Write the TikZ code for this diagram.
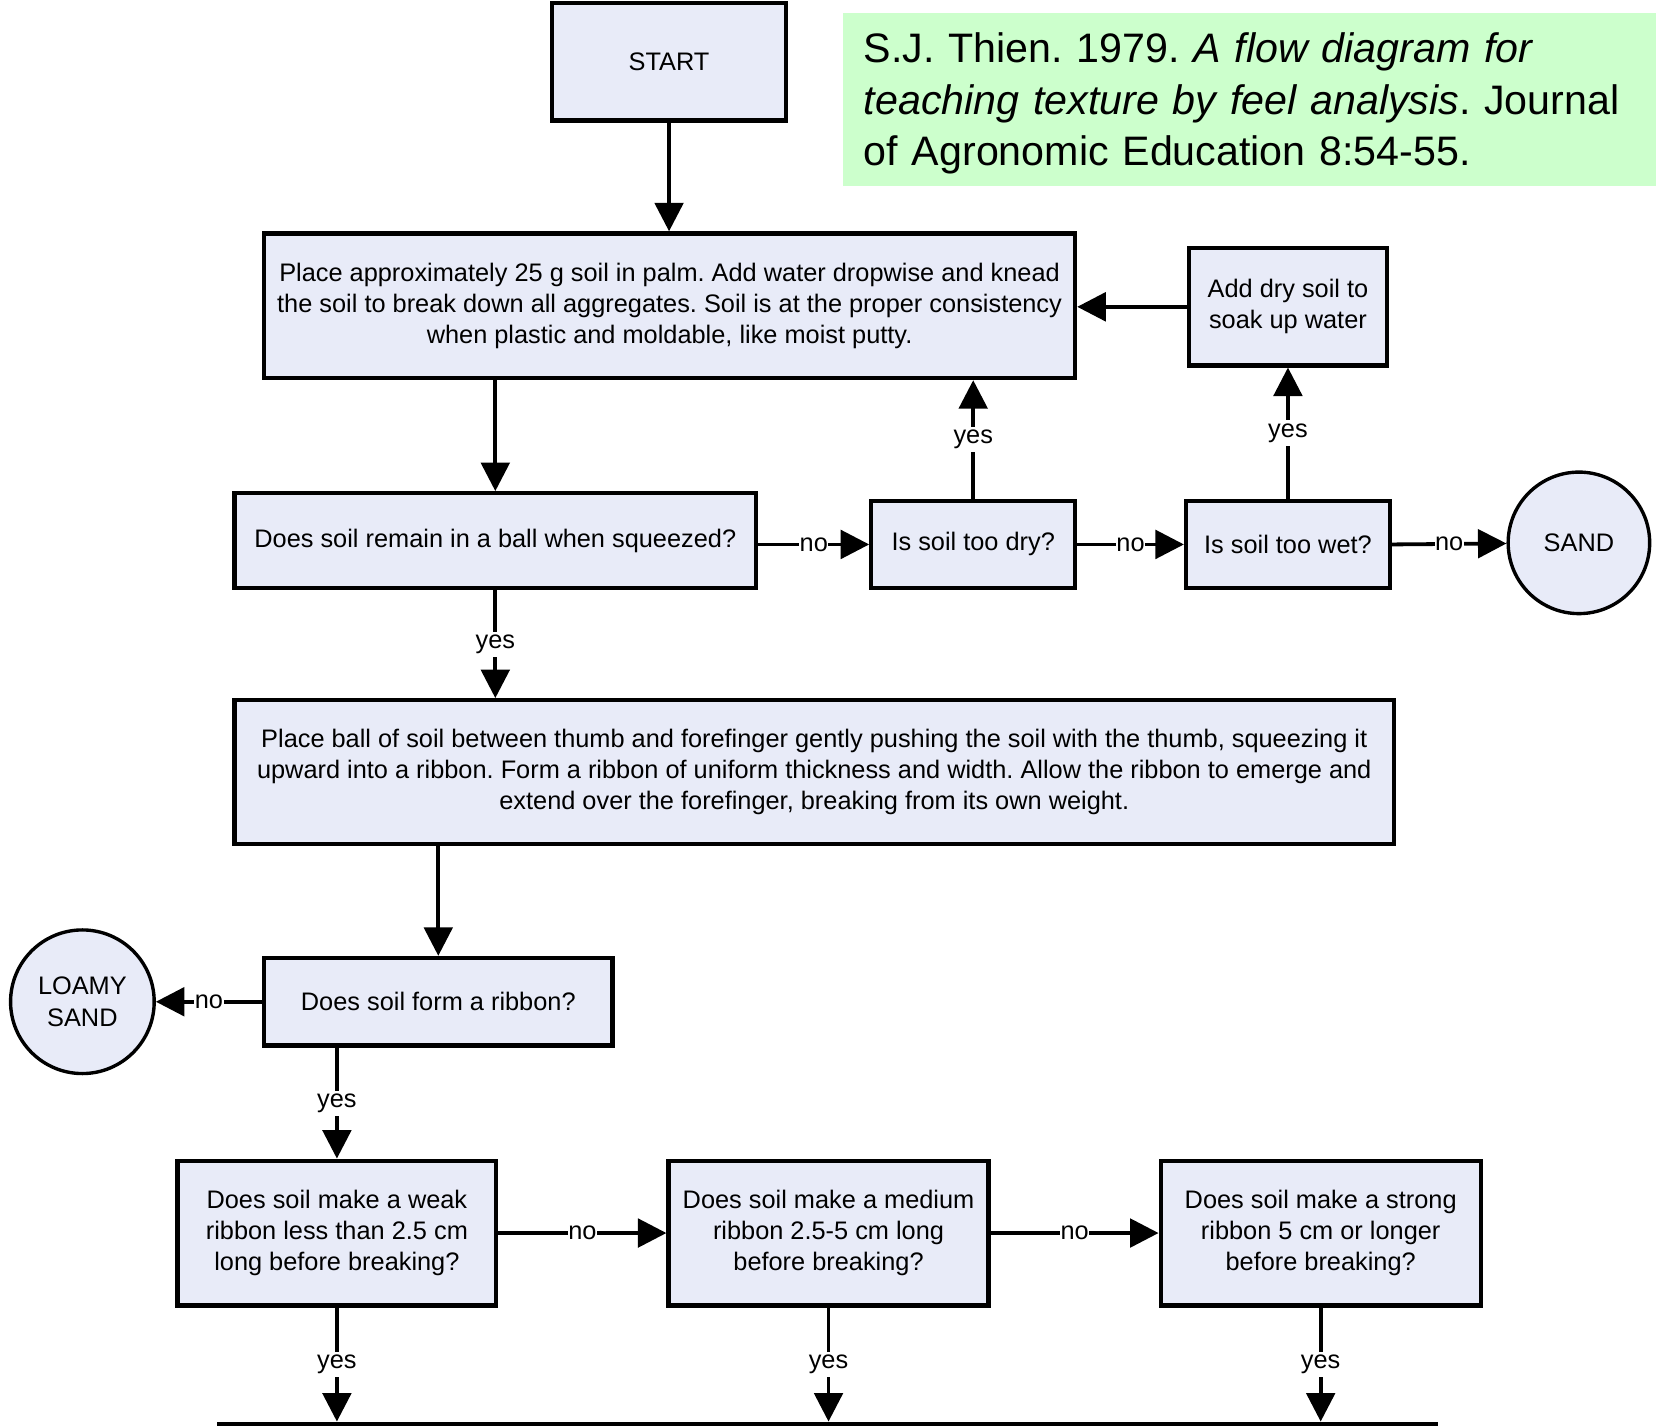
\documentclass[tikz,border=0pt]{standalone}
\usepackage{fontspec}
\setmainfont{Liberation Sans}
\usetikzlibrary{arrows.meta}
\definecolor{boxfill}{RGB}{232,235,248}
\definecolor{citefill}{RGB}{204,255,204}
\newcommand{\diagfont}{\fontsize{12}{14.75}\selectfont}
\newcommand{\citefont}{\fontsize{19.5}{24.25}\selectfont}
\frenchspacing
\begin{document}
\frenchspacing
\begin{tikzpicture}[x=0.5pt,y=-0.5pt,
  box/.style={draw, line width=2pt, fill=boxfill, align=center, inner sep=0pt, font=\diagfont},
  endcircle/.style={draw, circle, line width=1.6pt, fill=boxfill, align=center, inner sep=0pt, font=\diagfont},
  conn/.style={line width=1.8pt, -{Triangle[length=13.5pt,width=13.5pt]}},
  lab/.style={fill=white, inner sep=1.5pt, font=\diagfont},
  nolab/.style={fill=white, inner xsep=0.3pt, inner ysep=1pt, font=\diagfont}]
\clip (0,0) rectangle (1568,1350);
\fill[white] (0,0) rectangle (1568,1350);

\fill[citefill] (798,12) rectangle (1568,176);
\node[inner xsep=10pt, inner ysep=0pt, text width=365pt, align=left, font=\citefont] (cite) at (1183,98)
  {S.J. Thien. 1979. \textit{A flow diagram for}\\\textit{teaching texture by feel analysis}. Journal\\of Agronomic Education 8:54-55.};

\node[box, minimum width=110.5pt, minimum height=55.5pt] (start) at (633.5,58.5) {START};
\node[box, minimum width=384pt, minimum height=68.5pt] (place) at (634,289.5)
  {Place approximately 25 g soil in palm. Add water dropwise and knead\\the soil to break down all aggregates. Soil is at the proper consistency\\when plastic and moldable, like moist putty.};
\node[box, minimum width=93.5pt, minimum height=55.5pt] (adddry) at (1219.5,290.5) {Add dry soil to\\soak up water};
\node[box, minimum width=247pt, minimum height=45pt] (ball) at (469,512) {Does soil remain in a ball when squeezed?};
\node[box, minimum width=96.5pt, minimum height=41.5pt] (dry) at (921.5,515.5) {Is soil too dry?};
\node[box, minimum width=96.5pt, minimum height=41.5pt] (wet) at (1219.5,515.5) {Is soil too wet?};
\node[endcircle, minimum size=67pt] (sand) at (1495,514) {SAND};
\node[box, minimum width=549pt, minimum height=68pt] (ribbon) at (771,731)
  {Place ball of soil between thumb and forefinger gently pushing the soil with the thumb, squeezing it\\upward into a ribbon. Form a ribbon of uniform thickness and width. Allow the ribbon to emerge and\\extend over the forefinger, breaking from its own weight.};
\node[box, minimum width=165pt, minimum height=41.5pt] (form) at (415,948.5) {Does soil form a ribbon?};
\node[endcircle, minimum size=68pt] (loamy) at (78,948.5) {LOAMY\\SAND};
\node[box, minimum width=151pt, minimum height=68.5pt] (weak) at (319,1167.5) {Does soil make a weak\\ribbon less than 2.5 cm\\long before breaking?};
\node[box, minimum width=151.5pt, minimum height=68.5pt] (medium) at (784.5,1167.5) {Does soil make a medium\\ribbon 2.5-5 cm long\\before breaking?};
\node[box, minimum width=151.5pt, minimum height=68.5pt] (strong) at (1250.5,1167.5) {Does soil make a strong\\ribbon 5 cm or longer\\before breaking?};
\node[box, minimum width=576.5pt, minimum height=50pt, anchor=north] (bottom) at (783.5,1346) {};

\draw[conn] (start) -- (start.south |- place.north);
\draw[conn] (adddry.west) -- (place.east |- adddry.west);
\draw[conn] (ball.north |- place.south) -- (ball.north);
\draw[conn] (dry.north) -- node[lab] {yes} (dry.north |- place.south);
\draw[conn] (wet.north) -- node[lab] {yes} (adddry.south);
\draw[conn] (ball.east |- dry.west) -- node[nolab] {no} (dry.west);
\draw[conn] (dry.east) -- node[nolab] {no} (wet.west);
\draw[conn] (wet.east) -- node[nolab] {no} (sand);
\draw[conn] (ball.south) -- node[lab] {yes} (ball.south |- ribbon.north);
\draw[conn] (form.north |- ribbon.south) -- (form.north);
\draw[conn] (form.west) -- node[nolab] {no} (loamy);
\draw[conn] (weak.north |- form.south) -- node[lab] {yes} (weak.north);
\draw[conn] (weak.east) -- node[nolab] {no} (medium.west);
\draw[conn] (medium.east) -- node[nolab] {no} (strong.west);
\draw[conn] (weak.south) -- node[lab] {yes} (weak.south |- bottom.north);
\draw[conn] (medium.south) -- node[lab] {yes} (medium.south |- bottom.north);
\draw[conn] (strong.south) -- node[lab] {yes} (strong.south |- bottom.north);
\end{tikzpicture}
\end{document}
